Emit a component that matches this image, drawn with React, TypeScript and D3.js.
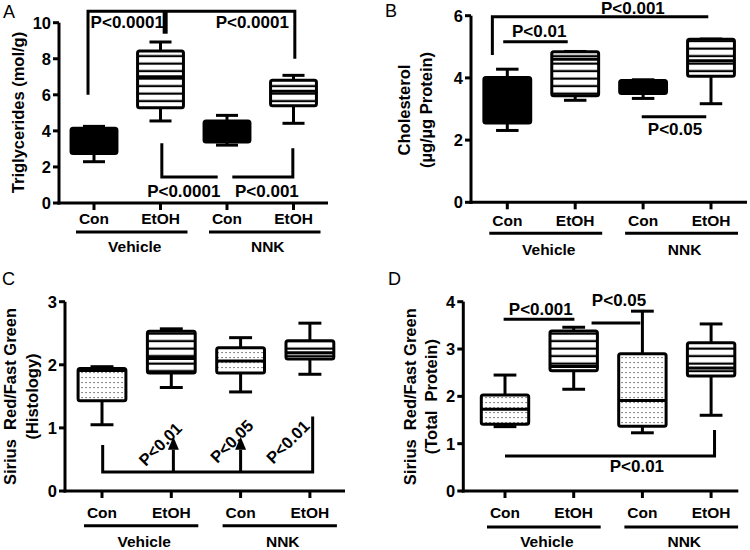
import React from "react";
import * as d3 from "d3";

// ---------- DATA ----------
const categories = ["Con", "EtOH", "Con", "EtOH"];
const groupNames = ["Vehicle", "NNK"];
const groupMembers = [[0, 1], [2, 3]];

// box statistics: [min, q1, median, q3, max]
const triglycerideStats = [
  [2.29, 2.75, 3.5, 4.15, 4.25],
  [4.55, 5.28, 7.0, 8.43, 8.93],
  [3.21, 3.39, 4.0, 4.55, 4.86],
  [4.42, 5.4, 6.2, 6.81, 7.08],
];
const cholesterolStats = [
  [2.31, 2.55, 3.3, 4.01, 4.28],
  [3.28, 3.43, 4.6, 4.84, 4.85],
  [3.34, 3.5, 3.7, 3.92, 3.94],
  [3.17, 4.05, 4.55, 5.24, 5.25],
];
const histologyStats = [
  [1.05, 1.43, 1.91, 1.94, 1.97],
  [1.64, 1.87, 2.1, 2.53, 2.57],
  [1.57, 1.87, 2.06, 2.27, 2.43],
  [1.85, 2.09, 2.19, 2.38, 2.66],
];
const totalProteinStats = [
  [1.36, 1.41, 1.73, 2.03, 2.45],
  [2.15, 2.54, 2.63, 3.38, 3.46],
  [1.23, 1.37, 1.91, 2.9, 3.8],
  [1.6, 2.43, 2.6, 3.13, 3.53],
];

const fillsAB = ["solid", "stripes", "solid", "stripes"];
const fillsCD = ["dots", "stripes", "dots", "stripes"];

const ticksA = [0, 2, 4, 6, 8, 10];
const ticksB = [0, 2, 4, 6];
const ticksC = [0, 1, 2, 3];
const ticksD = [0, 1, 2, 3, 4];

const yLabelA = ["Triglycerides (mol/g)"];
const yLabelB = ["Cholesterol", "(\u00b5g/\u00b5g Protein)"];
const yLabelC = ["Sirius  Red/Fast Green", "(Histology)"];
const yLabelD = ["Sirius  Red/Fast Green", "(Total  Protein)"];

// significance annotations, points given as [category index, value]
const sigLinesA = [
  [[-0.09, 6.0], [-0.09, 10.64], [3.02, 10.64], [3.02, 8.0]],
  [[1.02, 3.32], [1.02, 1.44], [1.86, 1.44]],
  [[2.08, 1.44], [2.99, 1.44], [2.99, 3.04]],
];
const sigThickA = [[[1.07, 10.64], [1.07, 9.39]]];
const sigLabelsA = [
  { text: "P<0.0001", at: [0.5, 9.68] },
  { text: "P<0.0001", at: [2.38, 9.68] },
  { text: "P<0.0001", at: [1.35, 0.33] },
  { text: "P<0.001", at: [2.6, 0.33] },
];

const sigLinesB = [
  [[-0.22, 4.74], [-0.22, 5.97], [2.96, 5.97]],
  [[-0.06, 5.16], [0.89, 5.16]],
  [[1.98, 2.75], [2.93, 2.75]],
];
const sigLabelsB = [
  { text: "P<0.001", at: [1.85, 6.06] },
  { text: "P<0.01", at: [0.47, 5.31] },
  { text: "P<0.05", at: [2.47, 2.16] },
];

const sigLinesC = [
  [[0.01, 0.73], [0.01, 0.3], [3.04, 0.3], [3.04, 1.18]],
];
const sigArrowsC = [
  { at: 1.03, from: 0.3, to: 0.86 },
  { at: 2.0, from: 0.3, to: 0.86 },
];
const sigLabelsC = [
  { text: "P<0.01", at: [0.84, 0.745], rotate: -45 },
  { text: "P<0.05", at: [1.87, 0.79], rotate: -45 },
  { text: "P<0.01", at: [2.68, 0.78], rotate: -45 },
];

const sigLinesD = [
  [[-0.02, 3.63], [1.01, 3.63]],
  [[1.26, 3.55], [1.97, 3.55]],
  [[0.0, 0.74], [3.05, 0.74], [3.05, 1.29]],
];
const sigLabelsD = [
  { text: "P<0.001", at: [0.52, 3.72] },
  { text: "P<0.05", at: [1.66, 3.9] },
  { text: "P<0.01", at: [1.92, 0.41] },
];

// ---------- LAYOUT ----------
const FONT = "'Liberation Sans', Arial, Helvetica, sans-serif";

type Layout = {
  letter: string;
  letterX: number;
  letterY: number;
  axisLeft: number;
  axisRight: number;
  c0: number;
  step: number;
  yBottom: number;
  yTop: number;
  catBaseline: number;
  groupLineY: number;
  groupBaseline: number;
  yLabelX: number[];
  yLabelY: number;
};

const layoutA: Layout = {
  letter: "A", letterX: 3, letterY: 18,
  axisLeft: 59, axisRight: 328, c0: 94, step: 66.5,
  yBottom: 203, yTop: 22.7,
  catBaseline: 224, groupLineY: 232, groupBaseline: 251.5,
  yLabelX: [23.5], yLabelY: 112.5,
};
const layoutB: Layout = {
  letter: "B", letterX: 385, letterY: 17,
  axisLeft: 471, axisRight: 747, c0: 507.3, step: 67.9,
  yBottom: 202.3, yTop: 15.7,
  catBaseline: 226, groupLineY: 233.3, groupBaseline: 254.5,
  yLabelX: [409.5, 431.5], yLabelY: 110,
};
const layoutC: Layout = {
  letter: "C", letterX: 2, letterY: 285,
  axisLeft: 65, axisRight: 345, c0: 102, step: 69.3,
  yBottom: 491, yTop: 301.7,
  catBaseline: 518.3, groupLineY: 525.7, groupBaseline: 546.5,
  yLabelX: [15.5, 37.5], yLabelY: 396.5,
};
const layoutD: Layout = {
  letter: "D", letterX: 388, letterY: 285,
  axisLeft: 463.3, axisRight: 738.3, c0: 505, step: 68.7,
  yBottom: 491, yTop: 301.7,
  catBaseline: 518.3, groupLineY: 527, groupBaseline: 546.5,
  yLabelX: [415.5, 437], yLabelY: 396.7,
};

type SigLabel = { text: string; at: number[]; rotate?: number };
type Arrow = { at: number; from: number; to: number };

function Panel(props: {
  layout: Layout;
  stats: number[][];
  fills: string[];
  ticks: number[];
  yLabel: string[];
  sigLines: number[][][];
  sigThick?: number[][][];
  sigLabels: SigLabel[];
  arrows?: Arrow[];
}) {
  const { layout: L, stats, fills, ticks, yLabel, sigLines, sigThick = [], sigLabels, arrows = [] } = props;
  const yMax = ticks[ticks.length - 1];
  const y = d3.scaleLinear().domain([0, yMax]).range([L.yBottom, L.yTop]);
  const x = d3
    .scaleLinear()
    .domain([0, categories.length - 1])
    .range([L.c0, L.c0 + L.step * (categories.length - 1)]);
  const boxW = L.step * 0.69;
  const capW = boxW * 0.48;
  const line = d3
    .line<number[]>()
    .x((d) => x(d[0]))
    .y((d) => y(d[1]));

  const fillFor = (f: string) =>
    f === "solid" ? "#000" : f === "stripes" ? "url(#stripes)" : "url(#dots)";

  return (
    <g fontFamily={FONT}>
      <text x={L.letterX} y={L.letterY} fontSize={18} fill="#000">
        {L.letter}
      </text>
      {yLabel.map((t, i) => (
        <text
          key={i}
          transform={`translate(${L.yLabelX[i]},${L.yLabelY}) rotate(-90)`}
          textAnchor="middle"
          fontSize={16.5}
          fontWeight="bold"
          style={{ whiteSpace: "pre" }}
        >
          {t}
        </text>
      ))}
      {stats.map((s, i) => {
        const [mn, q1, med, q3, mx] = s;
        const cx = x(i);
        return (
          <g key={i} stroke="#000" strokeWidth={3}>
            <line x1={cx} x2={cx} y1={y(mx)} y2={y(q3)} />
            <line x1={cx} x2={cx} y1={y(q1)} y2={y(mn)} />
            <line x1={cx - capW / 2} x2={cx + capW / 2} y1={y(mx)} y2={y(mx)} />
            <line x1={cx - capW / 2} x2={cx + capW / 2} y1={y(mn)} y2={y(mn)} />
            <rect
              x={cx - boxW / 2}
              width={boxW}
              y={y(q3)}
              height={y(q1) - y(q3)}
              rx={2}
              fill={fillFor(fills[i])}
              strokeLinejoin="round"
            />
            <line x1={cx - boxW / 2} x2={cx + boxW / 2} y1={y(med)} y2={y(med)} />
          </g>
        );
      })}
      <g stroke="#000" strokeWidth={3} fill="none">
        <line x1={L.axisLeft} x2={L.axisLeft} y1={y(0) + 1.5} y2={y(yMax)} />
        <line x1={L.axisLeft - 1.5} x2={L.axisRight} y1={y(0)} y2={y(0)} />
        {ticks.map((t) => (
          <line key={t} x1={L.axisLeft - 6} x2={L.axisLeft} y1={y(t)} y2={y(t)} />
        ))}
        {categories.map((c, i) => (
          <line key={i} x1={x(i)} x2={x(i)} y1={y(0)} y2={y(0) + 7} />
        ))}
      </g>
      {ticks.map((t) => (
        <text
          key={t}
          x={L.axisLeft - 8}
          y={y(t)}
          dy="0.36em"
          textAnchor="end"
          fontSize={16.5}
          fontWeight="bold"
        >
          {t}
        </text>
      ))}
      {categories.map((c, i) => (
        <text key={i} x={x(i)} y={L.catBaseline} textAnchor="middle" fontSize={15.5} fontWeight="bold">
          {c}
        </text>
      ))}
      {groupNames.map((g, gi) => {
        const m = groupMembers[gi];
        const x1 = x(m[0]) - 18;
        const x2 = x(m[m.length - 1]) + 27;
        return (
          <g key={g}>
            <line x1={x1} x2={x2} y1={L.groupLineY} y2={L.groupLineY} stroke="#000" strokeWidth={3} />
            <text x={(x1 + x2) / 2 + 3} y={L.groupBaseline} textAnchor="middle" fontSize={15.5} fontWeight="bold">
              {g}
            </text>
          </g>
        );
      })}
      <g stroke="#000" strokeWidth={3} fill="none" strokeLinecap="butt">
        {sigLines.map((p, i) => (
          <path key={i} d={line(p) || ""} />
        ))}
        {sigThick.map((p, i) => (
          <path key={"t" + i} d={line(p) || ""} strokeWidth={5} />
        ))}
      </g>
      {arrows.map((a, i) => {
        const ax = x(a.at);
        const tip = y(a.to);
        const base = tip + 13;
        return (
          <g key={i}>
            <line x1={ax} x2={ax} y1={y(a.from)} y2={base} stroke="#000" strokeWidth={3} />
            <path d={`M${ax},${tip}L${ax - 5.5},${base}L${ax + 5.5},${base}Z`} fill="#000" />
          </g>
        );
      })}
      {sigLabels.map((l, i) =>
        l.rotate ? (
          <text
            key={i}
            transform={`translate(${x(l.at[0])},${y(l.at[1])}) rotate(${l.rotate})`}
            textAnchor="middle"
            dominantBaseline="central"
            fontSize={16.5}
            fontWeight="bold"
          >
            {l.text}
          </text>
        ) : (
          <text key={i} x={x(l.at[0])} y={y(l.at[1])} textAnchor="middle" fontSize={17} fontWeight="bold">
            {l.text}
          </text>
        )
      )}
    </g>
  );
}

export default function App() {
  return (
    <svg
      width={750}
      height={550}
      style={{ position: "absolute", left: 0, top: 0, background: "#fff" }}
    >
      <defs>
        <pattern id="stripes" patternUnits="userSpaceOnUse" width={8} height={7.5}>
          <rect width={8} height={7.5} fill="#fff" />
          <rect y={2.5} width={8} height={2.2} fill="#000" />
        </pattern>
        <pattern id="dots" patternUnits="userSpaceOnUse" width={4} height={5}>
          <rect width={4} height={5} fill="#fff" />
          <rect x={1.5} y={2} width={1.1} height={1.1} fill="#333" />
        </pattern>
      </defs>
      <rect width={750} height={550} fill="#fff" />
      <Panel
        layout={layoutA}
        stats={triglycerideStats}
        fills={fillsAB}
        ticks={ticksA}
        yLabel={yLabelA}
        sigLines={sigLinesA}
        sigThick={sigThickA}
        sigLabels={sigLabelsA}
      />
      <Panel
        layout={layoutB}
        stats={cholesterolStats}
        fills={fillsAB}
        ticks={ticksB}
        yLabel={yLabelB}
        sigLines={sigLinesB}
        sigLabels={sigLabelsB}
      />
      <Panel
        layout={layoutC}
        stats={histologyStats}
        fills={fillsCD}
        ticks={ticksC}
        yLabel={yLabelC}
        sigLines={sigLinesC}
        sigLabels={sigLabelsC}
        arrows={sigArrowsC}
      />
      <Panel
        layout={layoutD}
        stats={totalProteinStats}
        fills={fillsCD}
        ticks={ticksD}
        yLabel={yLabelD}
        sigLines={sigLinesD}
        sigLabels={sigLabelsD}
      />
    </svg>
  );
}
